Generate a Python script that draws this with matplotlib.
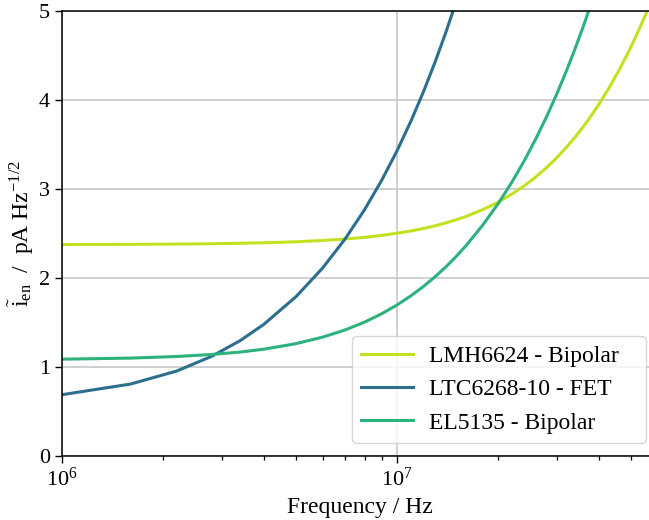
import numpy as np
import matplotlib
matplotlib.use('Agg')
import matplotlib.pyplot as plt

plt.rcParams['font.family'] = 'Liberation Serif'
plt.rcParams['mathtext.fontset'] = 'custom'
plt.rcParams['mathtext.rm'] = 'Liberation Serif'
plt.rcParams['mathtext.it'] = 'Liberation Serif:italic'

# frequency points in MHz
freq_mhz = [1.0, 1.6, 2.2, 2.8, 3.4, 4.0, 5.0, 6.0, 7.0, 8.0, 9.0, 10.0,
            11.0, 12.0, 13.0, 14.0, 15.0, 16.0, 18.0, 20.0, 22.0, 24.0,
            26.0, 28.0, 30.0, 32.0, 34.0, 36.0, 38.0, 40.0, 43.0, 46.0,
            49.0, 52.0, 55.0, 58.0, 60.0]

# equivalent input noise current, pA/sqrt(Hz)
lmh6624 = [2.376, 2.378, 2.381, 2.385, 2.390, 2.396, 2.407, 2.422, 2.438,
           2.457, 2.479, 2.503, 2.529, 2.557, 2.587, 2.620, 2.654, 2.690,
           2.768, 2.852, 2.943, 3.039, 3.140, 3.245, 3.355, 3.469, 3.585,
           3.705, 3.828, 3.953, 4.145, 4.341, 4.541, 4.745, 4.952, 5.161,
           5.302]
ltc6268 = [0.689, 0.808, 0.955, 1.121, 1.296, 1.479, 1.793, 2.115, 2.441,
           2.770, 3.101, 3.433, 3.766, 4.100, 4.435, 4.770, 5.105, 5.441,
           6.110]
el5135 = [1.088, 1.100, 1.118, 1.141, 1.168, 1.200, 1.263, 1.336, 1.417,
          1.505, 1.599, 1.698, 1.801, 1.907, 2.017, 2.128, 2.242, 2.358,
          2.594, 2.834, 3.078, 3.324, 3.574, 3.824, 4.076, 4.329, 4.583,
          4.838, 5.094]

labels = ['LMH6624 - Bipolar', 'LTC6268-10 - FET', 'EL5135 - Bipolar']
colors = ['#c5e021', '#2c6e8d', '#2db27d']

f = np.array(freq_mhz) * 1e6

fig = plt.figure(figsize=(6.49, 5.2), dpi=100)
ax = fig.add_axes([62 / 649, 1 - 456 / 520, (658 - 62) / 649, 445 / 520])

for vals, lab, c in zip([lmh6624, ltc6268, el5135], labels, colors):
    ax.plot(f[:len(vals)], vals, color=c, lw=2.2, label=lab)

ax.set_xscale('log')
ax.set_xlim(1e6, 6e7)
ax.set_ylim(0, 5)
ax.grid(True, which='major', color='#c4c4c4', lw=1.1)
ax.set_axisbelow(True)
ax.spines['right'].set_visible(False)
for s in ['left', 'bottom', 'top']:
    ax.spines[s].set_linewidth(1.1)

ax.tick_params(axis='both', which='major', labelsize=16, length=5, width=1.0)
ax.tick_params(axis='x', which='minor', length=3, width=0.9)

ax.set_xlabel('Frequency / Hz', fontsize=17)
ax.set_ylabel(r'$\tilde{\mathrm{i}}_\mathrm{en}$  /  pA Hz$^{-1/2}$',
              fontsize=17, labelpad=2)

# legend box stretched to a fixed width in the lower right corner
leg = ax.legend(loc='lower left', bbox_to_anchor=(0.4866, 0.0292, 0.4933, 0.3),
                mode='expand', borderaxespad=0, fontsize=17, framealpha=0.8,
                handlelength=2.2, handletextpad=0.65, labelspacing=0.5)

fig.savefig('out.png', dpi=100)
